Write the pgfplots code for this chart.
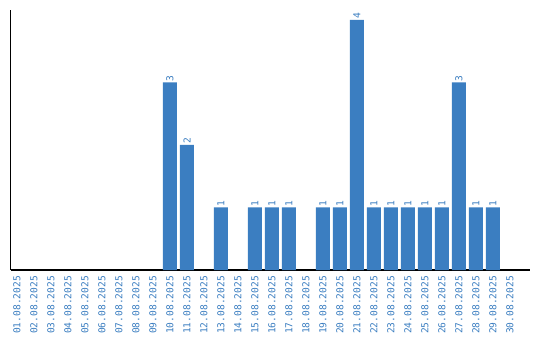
\documentclass[border=0pt]{standalone}
\usepackage{pgfplots}
\pgfplotsset{compat=1.18}
\usepackage{fontspec}
\setmainfont{DejaVu Sans Mono}
\definecolor{barblue}{RGB}{59,126,193}
\definecolor{lblblue}{RGB}{58,125,192}
\begin{document}
\begin{tikzpicture}
\path[use as bounding box] (-10.5bp,-70bp) rectangle (529.5bp,270bp);
\begin{axis}[
  at={(0,0)}, anchor=south west,
  scale only axis,
  width=519.5bp, height=260bp,
  xmin=0.62, xmax=31.18,
  ymin=0, ymax=4.16,
  axis x line*=bottom, axis y line*=left,
  axis line style={black, line width=1.1pt, -},
  ytick=\empty,
  xtick={1,...,30},
  xticklabels={01.08.2025,02.08.2025,03.08.2025,04.08.2025,05.08.2025,06.08.2025,07.08.2025,08.08.2025,09.08.2025,10.08.2025,11.08.2025,12.08.2025,13.08.2025,14.08.2025,15.08.2025,16.08.2025,17.08.2025,18.08.2025,19.08.2025,20.08.2025,21.08.2025,22.08.2025,23.08.2025,24.08.2025,25.08.2025,26.08.2025,27.08.2025,28.08.2025,29.08.2025,30.08.2025},
  x tick label style={rotate=90, anchor=east, font=\fontsize{9.6}{10}\selectfont, text=lblblue, inner sep=0pt},
  major tick length=0pt,
  xticklabel shift=6bp,
  ybar, bar width=0.82,
  nodes near coords={\fontsize{9.6}{10}\selectfont\pgfmathprintnumber[assume math mode=true]{\pgfplotspointmeta}},
  nodes near coords style={rotate=90, anchor=west, text=lblblue, inner sep=1pt},
  clip=false,
]
\addplot[fill=barblue, draw=none] coordinates {
  (10,3) (11,2) (13,1) (15,1) (16,1) (17,1) (19,1) (20,1) (21,4)
  (22,1) (23,1) (24,1) (25,1) (26,1) (27,3) (28,1) (29,1)
};
\end{axis}
\end{tikzpicture}
\end{document}
